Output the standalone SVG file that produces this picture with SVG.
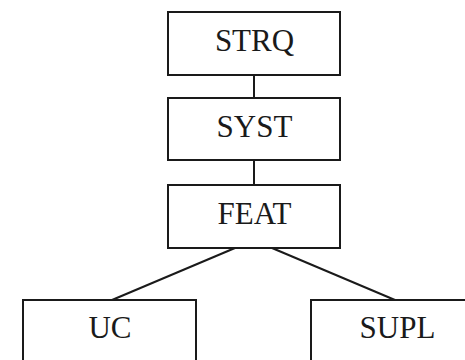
<svg xmlns="http://www.w3.org/2000/svg" width="465" height="360" viewBox="0 0 465 360">
  <style>
    .box { fill: #ffffff; stroke: #1a1a1a; stroke-width: 2; }
    .label { font-family: "Liberation Serif", "Times New Roman", serif; font-size: 31px; fill: #1a1a1a; text-anchor: middle; }
    .link { stroke: #1a1a1a; stroke-width: 2; fill: none; }
  </style>
  <rect width="465" height="360" fill="#ffffff"/>
  <g id="connectors">
    <line class="link" x1="254" y1="75" x2="254" y2="98"/>
    <line class="link" x1="254" y1="160" x2="254" y2="185"/>
    <line class="link" x1="235" y1="248" x2="112" y2="300"/>
    <line class="link" x1="272" y1="248" x2="395" y2="300"/>
  </g>
  <g id="strq">
    <rect class="box" x="168" y="12" width="172" height="63"/>
    <text class="label" x="254.5" y="51">STRQ</text>
  </g>
  <g id="syst">
    <rect class="box" x="168" y="98" width="172" height="62"/>
    <text class="label" x="254.5" y="137">SYST</text>
  </g>
  <g id="feat">
    <rect class="box" x="168" y="185" width="172" height="63"/>
    <text class="label" x="254.5" y="224">FEAT</text>
  </g>
  <g id="uc">
    <rect class="box" x="23" y="300" width="173" height="70"/>
    <text class="label" x="110" y="338">UC</text>
  </g>
  <g id="supl">
    <rect class="box" x="311" y="300" width="173" height="70"/>
    <text class="label" x="397.5" y="338">SUPL</text>
  </g>
</svg>
